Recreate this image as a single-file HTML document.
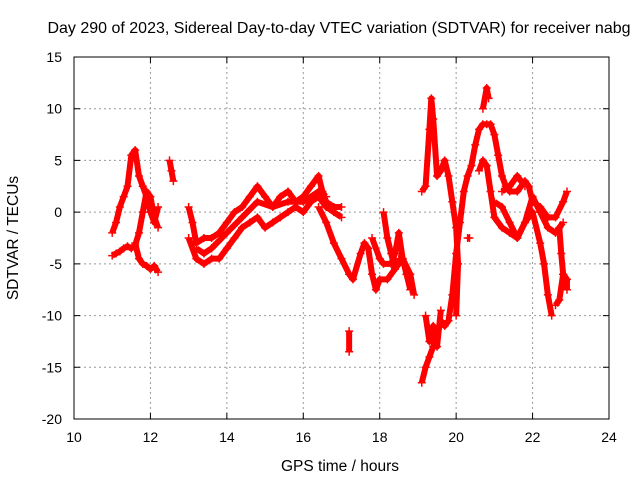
<!DOCTYPE html>
<html><head><meta charset="utf-8"><style>
body{margin:0;background:#fff}
svg{display:block;font-family:"Liberation Sans",sans-serif}
</style></head><body>
<svg id="c" width="640" height="480">
<rect width="640" height="480" fill="#fff"/>
<text x="339" y="33" font-size="16" text-anchor="middle">Day 290 of 2023, Sidereal Day-to-day VTEC variation (SDTVAR) for receiver nabg</text>
<text x="340" y="471" font-size="15.5" text-anchor="middle">GPS time / hours</text>
<text transform="translate(18,238) rotate(-90)" font-size="15.5" text-anchor="middle">SDTVAR / TECUs</text>
<g id="grid"></g><g id="marks"></g>
<rect x="74" y="57" width="535" height="362" fill="none" stroke="#000" stroke-width="1"/>
<g id="ticks"></g>
</svg>
<script>
const xTicks=[10,12,14,16,18,20,22,24];
const yTicks=[15,10,5,0,-5,-10,-15,-20];
const trackA=[[11.0,-2],[11.1,-1],[11.2,0.5],[11.3,1.5],[11.4,2.5],[11.5,5.5],[11.6,6],[11.7,3.5],[11.8,2.5],[11.9,1.5],[12.0,0],[12.1,-1],[12.2,0.5]];
const trackB=[[11.0,-4.2],[11.1,-4],[11.2,-3.8],[11.3,-3.5],[11.4,-3.3],[11.5,-3.5],[11.6,-3.2],[11.7,-2],[11.8,0],[11.9,2],[12.0,1.5],[12.1,-0.5],[12.2,-1.5]];
const trackC=[[11.6,-3],[11.7,-4.5],[11.8,-5],[11.9,-5.2],[12.0,-5.5],[12.1,-5.2],[12.2,-5.8]];
const trackD=[[12.5,5],[12.55,4],[12.6,3]];
const trackE=[[13.0,0.5],[13.1,-1],[13.2,-3],[13.4,-2.5],[13.6,-2.5],[13.8,-2],[14.0,-1],[14.2,0],[14.4,0.5],[14.6,1.5],[14.8,2.5],[15.0,1.5],[15.2,0.5],[15.4,1.5],[15.6,2],[15.8,1],[16.0,1.5],[16.2,2.5],[16.4,3.5],[16.5,2],[16.6,1],[16.8,0.5],[17.0,0.5]];
const trackF=[[13.0,-2.5],[13.2,-4.5],[13.4,-5],[13.6,-4.5],[13.8,-4.5],[14.0,-3.5],[14.2,-2.5],[14.4,-1.5],[14.6,-1],[14.8,-0.5],[15.0,-1.5],[15.2,-1],[15.4,-0.5],[15.6,0],[15.8,0.5],[16.0,0],[16.2,1],[16.4,1.5],[16.6,0.5],[16.8,0],[17.0,-0.5]];
const trackF2=[[13.2,-3.5],[13.4,-4],[13.6,-3.5],[14.0,-2],[14.4,-0.5],[14.8,1],[15.2,0.5],[15.6,1],[16.0,1],[16.4,2],[16.6,1.5]];
const trackG=[[16.4,0.5],[16.6,-1],[16.8,-3],[17.0,-4.5],[17.2,-6],[17.3,-6.5],[17.5,-4],[17.6,-3],[17.7,-3.5],[17.8,-6],[17.9,-7.5],[18.0,-6.5],[18.2,-6.5],[18.4,-5.5],[18.6,-4.5],[18.8,-6],[18.9,-8]];
const trackH=[[17.8,-2.5],[18.0,-4.5],[18.1,-5],[18.3,-5],[18.4,-4],[18.5,-2],[18.6,-4.5],[18.7,-6],[18.8,-7.5]];
const trackH2=[[18.1,0],[18.2,-2.5],[18.3,-4],[18.4,-5.5],[18.5,-4.5]];
const trackI=[[17.2,-11.5],[17.2,-13.5]];
const trackJ=[[19.1,-16.5],[19.2,-15],[19.3,-14],[19.4,-13],[19.5,-12],[19.6,-10.5],[19.7,-11],[19.8,-10.5],[19.9,-8],[20.0,-4],[20.1,-1],[20.2,2],[20.3,3.5],[20.4,4.5],[20.5,6.5],[20.6,8],[20.7,8.5],[20.8,8.5],[20.9,8.5],[21.0,7.5],[21.1,5.5],[21.2,3.5],[21.3,2.5],[21.4,2],[21.6,2],[21.8,3],[21.9,2.5],[22.0,1],[22.2,0.5],[22.4,-0.5],[22.6,-0.5],[22.8,1],[22.9,2]];
const trackK=[[19.1,2],[19.2,2.5],[19.3,8],[19.35,11],[19.4,9],[19.5,3.5],[19.6,4],[19.7,5],[19.8,3.5],[19.9,1],[20.0,-1.5],[20.05,-5],[20.0,-10]];
const trackK2=[[19.2,-10],[19.3,-12.5],[19.4,-11],[19.5,-13],[19.6,-9.5]];
const trackL=[[20.6,4],[20.7,5],[20.8,4.5],[20.9,2],[21.0,-0.5],[21.2,-1.5],[21.4,-2],[21.6,-2.5],[21.8,-1],[22.0,1.5],[22.2,0],[22.4,-1.5],[22.6,-2],[22.8,-1]];
const trackM=[[21.0,1],[21.2,0.5],[21.4,-1],[21.6,-2.5],[21.8,-1],[22.0,0],[22.2,-3],[22.3,-5],[22.4,-8],[22.5,-10]];
const trackN=[[22.6,-9],[22.7,-8.5],[22.8,-6],[22.9,-6.5],[22.9,-7.5]];
const trackN2=[[22.7,-1.5],[22.75,-4],[22.8,-6]];
const trackO=[[21.2,2],[21.4,2.5],[21.6,3.5],[21.8,2.5]];
const trackP=[[20.3,-2.5],[20.35,-2.5]];
const trackQ=[[20.7,10],[20.8,12],[20.85,11]];
const tracks=[trackA,trackB,trackC,trackD,trackE,trackF,trackF2,trackG,trackH,trackH2,trackI,trackJ,trackK,trackK2,trackL,trackM,trackN,trackN2,trackO,trackP,trackQ];
const X=t=>74+(t-10)*535/14, Y=v=>57+(15-v)*362/35;
const NS="http://www.w3.org/2000/svg";
const grid=document.getElementById('grid'),ticks=document.getElementById('ticks'),marks=document.getElementById('marks');
function mk(tag,attrs,parent){const e=document.createElementNS(NS,tag);for(const k in attrs)e.setAttribute(k,attrs[k]);parent.appendChild(e);return e;}
xTicks.forEach(t=>{const x=X(t);
 if(t>10&&t<24){const g=mk('line',{x1:x,x2:x,y1:57,y2:419,stroke:'#999','stroke-dasharray':'2,3'},grid);
 
 }
 const tk=mk('path',{d:`M${x},419v-6M${x},57v6`,stroke:'#000'},ticks);
 
 
 const l=mk('text',{x:x,y:442,'font-size':14,'text-anchor':'middle'},ticks);l.textContent=t;
 
 });
yTicks.forEach(v=>{const y=Y(v);
 if(v<15&&v>-20){const g=mk('line',{x1:74,x2:609,y1:y,y2:y,stroke:'#999','stroke-dasharray':'2,3'},grid);
 
 }
 const tk=mk('path',{d:`M74,${y}h6M609,${y}h-6`,stroke:'#000'},ticks);
 
 
 const l=mk('text',{x:62,y:y+5,'font-size':14,'text-anchor':'end'},ticks);l.textContent=v;
 
 });
tracks.forEach(tr=>{
 const p=mk('polyline',{points:tr.map(d=>X(d[0])+','+Y(d[1])).join(' '),fill:'none',stroke:'#f00','stroke-width':6,'stroke-linejoin':'round'},marks);
 
 
 tr.forEach(d=>{const x=X(d[0]),y=Y(d[1]);
  const m=mk('path',{d:`M${x-4},${y}h8M${x},${y-4}v8`,stroke:'#f00','stroke-width':1.5},marks);
  
  });
});
</script>
</body></html>
